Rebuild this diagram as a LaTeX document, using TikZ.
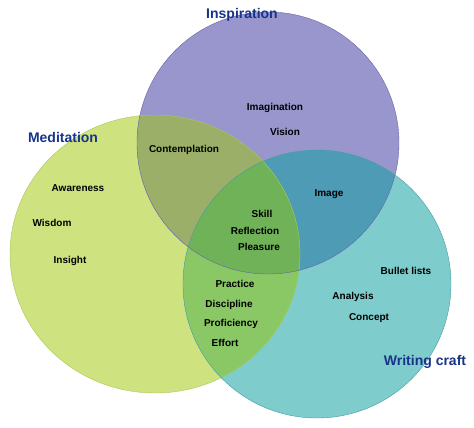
\documentclass[tikz,border=0pt]{standalone}
\usepackage{fontspec}
\setmainfont{Liberation Sans}
\usetikzlibrary{backgrounds}

\definecolor{inspfill}{RGB}{152,150,204}
\definecolor{inspline}{RGB}{104,100,168}
\definecolor{medifill}{RGB}{207,226,128}
\definecolor{mediline}{RGB}{170,200,90}
\definecolor{writfill}{RGB}{127,204,204}
\definecolor{writline}{RGB}{70,155,165}
\definecolor{inspmedi}{RGB}{155,175,105}
\definecolor{inspwrit}{RGB}{78,155,182}
\definecolor{mediwrit}{RGB}{137,200,100}
\definecolor{allthree}{RGB}{112,178,88}
\definecolor{titleblue}{RGB}{24,52,138}

\def\circInsp{(268,143) circle (131pt)}
\def\circMedi{(155,254) ellipse [x radius=145pt, y radius=139pt]}
\def\circWrit{(317,284) circle (134pt)}

\tikzset{
  title/.style={font=\fontsize{14}{16}\selectfont\bfseries, text=titleblue, inner sep=0pt},
  word/.style={font=\fontsize{10}{12}\selectfont\bfseries, text=black, inner sep=0pt}
}

\begin{document}
\begin{tikzpicture}[x=1pt, y=-1pt, background rectangle/.style={fill=white}, show background rectangle, inner frame sep=0pt]
    \useasboundingbox (0,0) rectangle (474,428);

    % Draw the three circles
    \fill[medifill] \circMedi;
    \fill[inspfill] \circInsp;
    \fill[writfill] \circWrit;

    % Fill the pairwise overlaps
    \begin{scope}
      \clip \circInsp;
      \fill[inspmedi] \circMedi;
    \end{scope}
    \begin{scope}
      \clip \circInsp;
      \fill[inspwrit] \circWrit;
    \end{scope}
    \begin{scope}
      \clip \circMedi;
      \fill[mediwrit] \circWrit;
    \end{scope}

    % Fill the middle part shared by all three
    \begin{scope}
      \clip \circInsp;
      \clip \circMedi;
      \fill[allthree] \circWrit;
    \end{scope}

    % Outlines
    \draw[mediline, thin] \circMedi;
    \draw[inspline, thin] \circInsp;
    \draw[writline, thin] \circWrit;

    % Titles of the circles
    \node[title] (inspiration) at (242,15) {Inspiration};
    \node[title] (meditation) at (63,137) {Meditation};
    \node[title] (writing) at (425,362) {Writing craft};

    % Words in Inspiration
    \node[word] (imagination) at (275,108) {Imagination};
    \node[word] (vision) at (285,132) {Vision};

    % Words in Meditation
    \node[word] (awareness) at (78,188) {Awareness};
    \node[word] (wisdom) at (52,223) {Wisdom};
    \node[word] (insight) at (70,261) {Insight};

    % Words in Writing craft
    \node[word] (bullets) at (406,271) {Bullet lists};
    \node[word] (analysis) at (353,297) {Analysis};
    \node[word] (concept) at (369,318) {Concept};

    % Words in the overlaps
    \node[word] (contemplation) at (184,150) {Contemplation};
    \node[word] (image) at (329,194) {Image};
    \node[word] (practice) at (235,284) {Practice};
    \node[word] (discipline) at (229,305) {Discipline};
    \node[word] (proficiency) at (231,324) {Proficiency};
    \node[word] (effort) at (225,343) {Effort};

    % Words in the middle
    \node[word] (skill) at (262,214) {Skill};
    \node[word] (reflection) at (255,231) {Reflection};
    \node[word] (pleasure) at (259,247) {Pleasure};
\end{tikzpicture}
\end{document}
